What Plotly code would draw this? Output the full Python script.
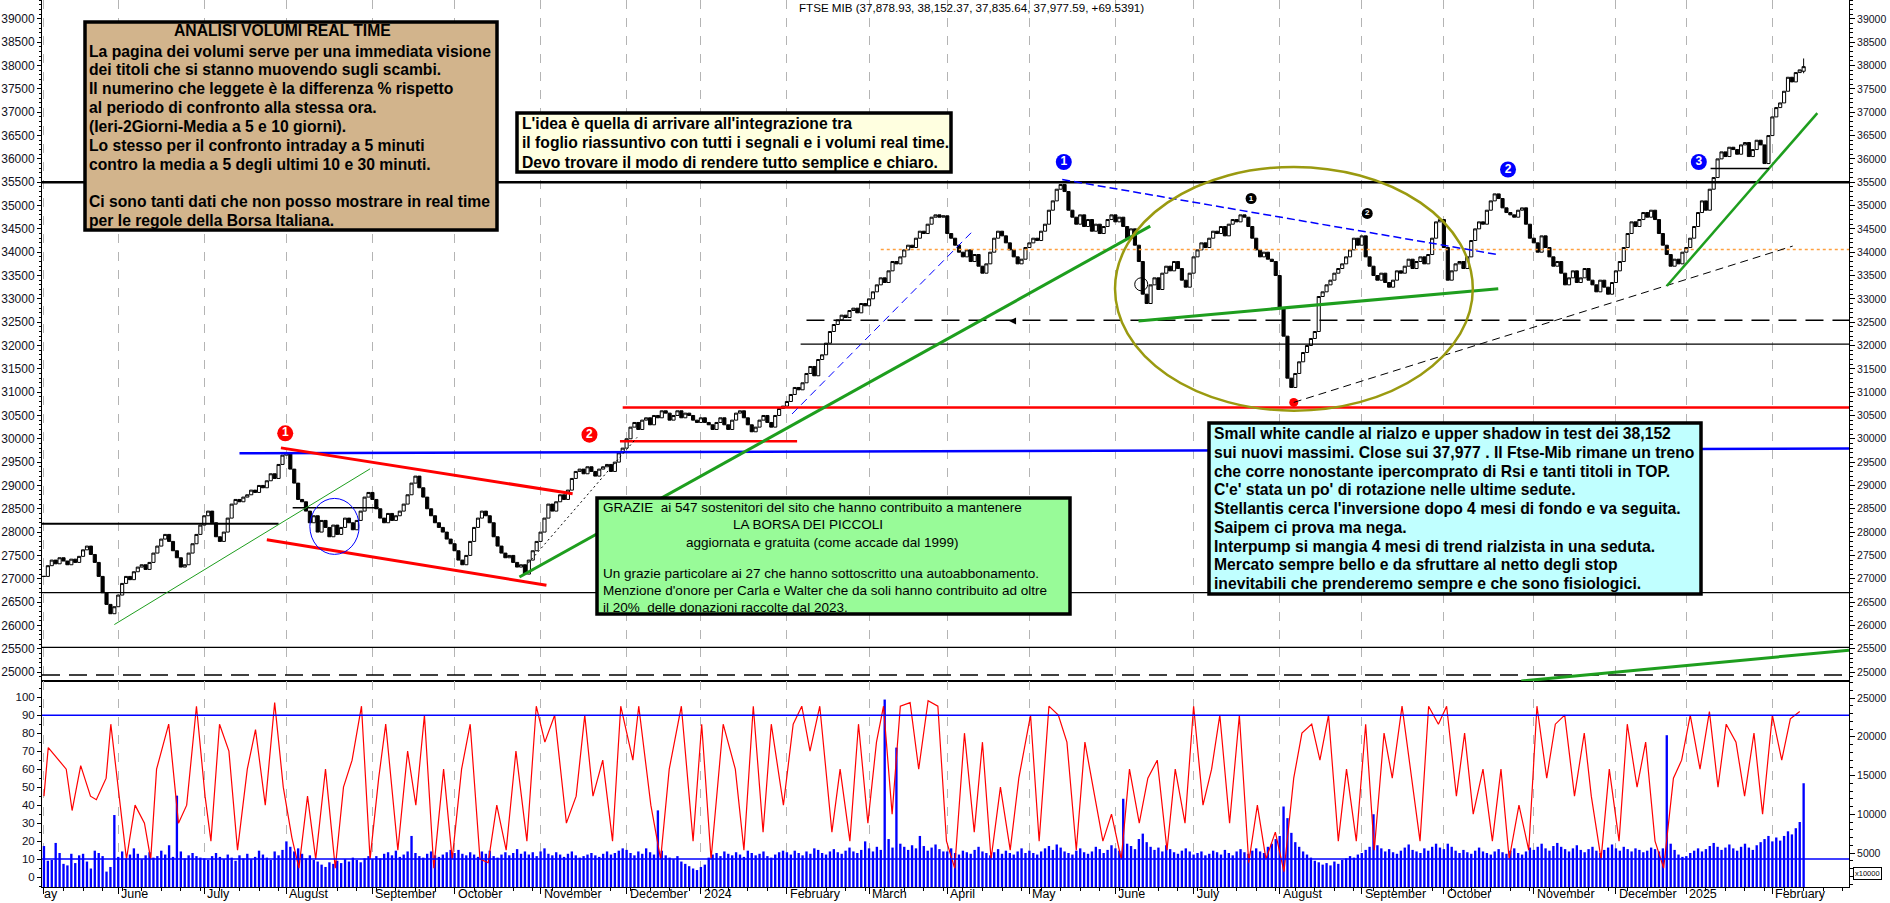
import plotly.graph_objects as go

# ---------------- data ----------------
month_names = ["May", "June", "July", "August", "September", "October", "November",
               "December", "2024", "February", "March", "April", "May", "June", "July",
               "August", "September", "October", "November", "December", "2025", "February"]

close_2023_05 = [27050, 27280, 27400, 27320, 27450, 27380, 27300, 27420, 27350, 27480, 27620, 27700, 27520, 27350, 27050, 26700, 26450, 26250, 26400]
close_2023_06 = [26650, 26900, 27050, 26980, 27150, 27250, 27300, 27200, 27350, 27550, 27700, 27850, 27950, 27800, 27600, 27450, 27250, 27300, 27550, 27750, 27950, 28150]
close_2023_07 = [28350, 28450, 28200, 27900, 27800, 28000, 28300, 28600, 28700, 28650, 28750, 28800, 28900, 28850, 29000, 28950, 29100, 29250, 29150, 29450, 29650]
close_2023_08 = [29700, 29350, 29050, 28700, 28650, 28450, 28200, 28350, 28000, 28250, 28100, 27900, 28150, 27950, 28100, 28300, 28200, 28050, 28250, 28450, 28750, 28850]
close_2023_09 = [28700, 28500, 28300, 28200, 28400, 28250, 28350, 28450, 28600, 28800, 29050, 29200, 28950, 28750, 28500, 28350, 28200, 28100, 28000, 27850, 27750]
close_2023_10 = [27600, 27400, 27300, 27500, 27800, 28100, 28300, 28450, 28350, 28200, 27900, 27700, 27550, 27450, 27500, 27350, 27250, 27300, 27100, 27400, 27600, 27800]
close_2023_11 = [28000, 28300, 28600, 28450, 28650, 28800, 28700, 28900, 29150, 29300, 29350, 29250, 29400, 29300, 29200, 29350, 29400, 29450, 29300, 29500, 29700, 29800]
close_2023_12 = [30000, 30250, 30350, 30200, 30400, 30450, 30300, 30500, 30450, 30600, 30550, 30400, 30500, 30600, 30450, 30550, 30500, 30400, 30350]
close_2024_01 = [30450, 30350, 30300, 30200, 30350, 30450, 30300, 30200, 30400, 30550, 30600, 30450, 30300, 30150, 30250, 30400, 30500, 30350, 30250, 30500, 30650, 30700]
close_2024_02 = [30800, 30950, 31100, 31050, 31200, 31400, 31550, 31350, 31700, 31800, 32050, 32300, 32450, 32550, 32650, 32600, 32750, 32800, 32700, 32900, 32850]
close_2024_03 = [33000, 33150, 33300, 33450, 33350, 33600, 33800, 33750, 33900, 34050, 34150, 34100, 34300, 34450, 34400, 34600, 34750, 34800, 34750, 34780]
close_2024_04 = [34400, 34300, 34150, 34000, 33900, 34050, 33800, 33950, 33700, 33550, 33750, 34000, 34300, 34450, 34350, 34200, 34050, 33900, 33750, 33850, 34100]
close_2024_05 = [34200, 34300, 34250, 34450, 34600, 34900, 35100, 35350, 35450, 35300, 34900, 34750, 34600, 34800, 34550, 34700, 34450, 34600, 34400, 34550, 34700, 34800]
close_2024_06 = [34650, 34750, 34550, 34300, 34500, 34150, 33800, 33100, 32900, 33300, 33450, 33200, 33550, 33700, 33600, 33800, 33650, 33400, 33250, 33550]
close_2024_07 = [33900, 34050, 34200, 34100, 34300, 34450, 34400, 34550, 34350, 34600, 34700, 34650, 34800, 34750, 34550, 34300, 34050, 33900, 34000, 33850, 33800, 33500]
close_2024_08 = [32800, 32200, 31300, 31100, 31400, 31650, 31850, 32000, 32150, 32300, 33050, 33150, 33300, 33400, 33550, 33650, 33750, 33900, 34050, 34300, 34150]
close_2024_09 = [34350, 33900, 33700, 33500, 33400, 33550, 33350, 33250, 33400, 33600, 33550, 33700, 33850, 33650, 33800, 33900, 33750, 33950, 34300, 34650, 34700]
close_2024_10 = [34100, 33400, 33600, 33750, 33800, 33650, 33900, 34250, 34500, 34650, 34600, 34900, 35100, 35250, 35150, 34950, 34850, 34800, 34750, 34900, 34950, 34600, 34300]
close_2024_11 = [34200, 34000, 34350, 34100, 33900, 33700, 33800, 33550, 33300, 33450, 33600, 33350, 33450, 33650, 33400, 33300, 33150, 33400, 33250, 33100, 33350]
close_2024_12 = [33600, 33800, 34100, 34400, 34650, 34550, 34700, 34850, 34750, 34900, 34700, 34400, 34150, 33950, 33700, 33850, 33750, 34000]
close_2025_01 = [34100, 34300, 34550, 34850, 35100, 34900, 35350, 35600, 36000, 36150, 36050, 36250, 36200, 36100, 36300, 36350, 36050, 36200, 36400, 36300, 35900, 36500]
close_2025_02 = [36900, 37100, 37200, 37450, 37750, 37650, 37850, 37908.05, 37977.59]

last_ohlc = [37878.93, 38152.37, 37835.64, 37977.59]
last_change = 69.5391

vol_2023_05 = [5900, 4000, 4100, 6300, 5000, 3600, 3400, 4900, 3700, 4700, 4900, 3900, 3000, 5300, 5000, 4600, 2600, 3200, 9900]
vol_2023_06 = [4500, 5200, 4300, 4800, 5600, 4900, 4200, 4700, 5100, 4400, 4600, 5300, 4800, 6000, 4500, 12400, 5200, 4300, 4700, 5000, 4600, 4400]
vol_2023_07 = [4300, 4100, 4600, 5000, 4500, 4200, 4800, 4400, 4000, 4700, 4300, 4900, 4200, 4500, 5300, 4800, 4400, 4100, 5200, 4700, 5400]
vol_2023_08 = [6500, 5800, 5200, 5600, 4900, 4300, 4700, 4100, 3900, 3500, 3200, 3800, 3600, 4000, 3700, 4200, 3900, 4400, 4100, 3800, 4300, 4600]
vol_2023_09 = [4200, 4600, 4300, 4900, 5100, 4700, 5300, 4500, 4800, 5200, 7200, 5000, 4600, 4400, 4900, 5200, 4700, 4500, 4800, 5100, 5400]
vol_2023_10 = [5000, 5400, 4900, 4700, 5100, 4800, 4500, 5200, 4900, 5300, 4600, 4400, 4800, 5100, 4700, 5000, 5500, 4900, 5200, 4800, 5100, 4600]
vol_2023_11 = [5200, 5600, 4900, 4700, 5100, 4800, 4500, 4900, 5200, 4700, 4400, 4600, 4800, 5000, 4700, 4500, 4900, 5200, 4800, 5000, 5300, 5600]
vol_2023_12 = [5400, 5000, 4700, 5200, 4900, 5600, 5100, 4800, 10500, 5300, 4700, 4400, 4200, 4600, 3900, 3600, 3300, 3000, 2800]
vol_2024_01 = [3200, 3500, 4400, 4800, 5000, 4600, 5200, 4900, 4700, 5100, 4800, 4500, 5300, 5000, 4700, 4900, 5200, 4600, 4400, 4800, 5100, 5300]
vol_2024_02 = [5100, 4800, 5300, 5000, 4700, 5200, 4900, 5600, 5400, 5000, 4800, 5200, 5500, 5100, 4900, 5300, 5700, 5200, 5000, 5400, 6500]
vol_2024_03 = [5600, 5200, 5800, 5400, 24800, 6800, 5700, 18600, 6200, 5800, 5400, 6000, 5600, 7200, 5900, 5300, 5700, 6100, 5500, 5200]
vol_2024_04 = [5200, 5600, 5000, 4800, 5300, 5100, 4900, 5400, 5800, 5200, 5000, 4700, 5100, 5500, 4900, 5300, 5000, 4800, 5200, 5600, 5000]
vol_2024_05 = [5300, 5000, 4800, 5200, 5600, 5900, 5400, 6100, 5700, 5200, 5000, 4800, 5300, 5600, 5100, 4900, 5200, 5800, 5500, 5000, 5400, 6000]
vol_2024_06 = [5600, 5300, 12000, 6200, 5900, 5500, 6800, 7500, 6400, 5800, 5400, 5700, 5200, 6000, 5500, 5100, 4900, 5300, 5600, 5200]
vol_2024_07 = [4800, 5000, 5200, 4700, 4900, 5300, 5100, 4800, 5400, 5000, 4700, 5200, 5500, 5100, 4900, 5300, 5600, 5200, 5000, 5800, 6200, 6800]
vol_2024_08 = [7200, 11000, 9500, 7600, 6400, 5800, 5200, 4800, 4400, 4000, 3800, 3500, 3700, 3400, 3900, 3600, 4100, 4300, 4600, 4400, 4800]
vol_2024_09 = [5000, 5400, 5800, 10000, 6000, 5600, 5200, 5500, 5100, 4900, 5300, 5700, 6100, 5400, 5200, 5000, 5600, 5300, 5800, 6200, 5700]
vol_2024_10 = [5500, 6200, 5800, 5300, 5000, 5400, 5100, 4900, 5300, 5700, 5200, 5000, 4800, 5200, 5500, 5100, 4900, 5300, 5600, 5000, 4800, 5200, 5700]
vol_2024_11 = [5400, 5800, 6200, 5600, 5300, 5900, 6300, 5800, 5500, 5200, 5600, 6000, 5400, 5100, 5500, 5800, 5300, 5000, 5400, 5700, 6100]
vol_2024_12 = [5600, 5300, 5800, 5500, 5200, 5600, 5400, 5100, 5300, 5700, 5500, 5200, 5600, 20200, 6200, 5400, 4800, 4500]
vol_2025_01 = [4600, 5000, 5300, 5600, 5200, 5500, 5900, 6300, 5800, 5400, 5700, 6100, 5600, 5300, 5800, 6200, 5700, 5400, 6000, 6400, 6800, 7200]
vol_2025_02 = [6500, 7000, 6600, 7200, 7800, 7400, 8200, 9000, 14000]

rsi_day = [0, 1.1, 5.7, 7.2, 9.4, 11.9, 13.4, 15.9, 17.1, 19.6, 21.1, 23.3, 25.7, 27.3, 28.8, 31.9, 34.4, 36.5, 39, 41.2,
           42.7, 44.9, 47.3, 49.5, 52, 54.1, 56.6, 59.0, 61.2, 63.4, 65.2, 67.4, 69.5, 72, 74.5, 76.6, 78.8, 81.2, 83.4, 85.6,
           87.4, 90.5, 93, 95.1, 97.3, 99.7, 102.2, 104.4, 106.8, 109, 111.5, 113.6, 115.8, 118.2, 120.7, 123.5, 125.9, 128.1, 130.6, 133.6,
           136.1, 138.3, 140.4, 142.9, 145.4, 147.5, 150.6, 152.1, 155.2, 157.7, 159.9, 163, 166, 168.2, 170.6, 173.7, 176.8, 179, 181.4, 183.9,
           186, 189.1, 191.6, 193.8, 195.9, 198.4, 201.5, 203.6, 206.1, 208.3, 210.7, 212.9, 214.7, 216.9, 219.0, 221.5, 223.7, 226.1, 228.6, 230.8,
           232.9, 235.4, 237.9, 240, 242.2, 244.6, 247.1, 249.3, 252.3, 254.5, 257, 259.4, 261.6, 264, 266.2, 268.7, 270.8, 273, 275.5, 277.6,
           280.1, 282.3, 284.7, 287.2, 289.3, 291.8, 294, 296.4, 298.6, 300.7, 303.2, 305.7, 308.1, 310.3, 312.5, 314.9, 317.1, 319.6, 321.7, 324.2,
           326.3, 328.5, 331, 333.1, 335.6, 338, 340.2, 342.7, 344.8, 347.3, 349.5, 351.9, 354.1, 356.6, 358.7, 361.2, 363.3, 365.5, 368, 370.4,
           372.6, 374.7, 377.2, 379.7, 381.8, 384.3, 386.5, 388.9, 391.4, 393.9, 395.7, 398.2, 400.3, 402.8, 404.9, 407.4, 409.6, 412, 414.2, 416.7,
           418.8, 421, 423.5, 425.9, 428.1, 430.2, 432.7, 434.9, 437.3, 439.5, 442, 444.4, 446.6, 449]
rsi_value = [45, 72, 60, 37, 62, 45, 43, 55, 85, 40, 10, 40, 30, 10, 60, 85, 30, 40, 95, 45,
             20, 85, 70, 15, 60, 82, 40, 97, 50, 22, 5, 45, 10, 60, 5, 50, 65, 95, 10, 55,
             85, 15, 70, 40, 90, 5, 60, 10, 60, 85, 10, 8, 40, 15, 70, 20, 95, 75, 90, 30,
             45, 90, 45, 65, 20, 95, 65, 95, 40, 10, 60, 95, 20, 85, 10, 85, 60, 15, 95, 25,
             85, 40, 85, 95, 70, 95, 25, 60, 20, 85, 30, 75, 95, 35, 95, 97, 60, 98, 95, 20,
             5, 80, 25, 75, 10, 50, 15, 55, 90, 20, 95, 90, 75, 15, 75, 45, 20, 35, 10, 60,
             30, 55, 65, 15, 60, 30, 95, 40, 60, 90, 30, 90, 8, 40, 10, 25, 3, 55, 80, 85,
             65, 90, 20, 60, 20, 85, 15, 80, 55, 95, 60, 20, 95, 85, 95, 45, 80, 35, 60, 20,
             60, 10, 40, 15, 95, 55, 85, 90, 45, 80, 45, 10, 60, 20, 85, 50, 75, 20, 5, 55,
             65, 90, 60, 92, 50, 85, 75, 45, 80, 35, 90, 65, 88, 92]

rsi_upper, rsi_lower = 90, 10

# chart levels and drawn lines: (trading day, price)
level_35500 = 35500
level_orange = 34060
level_dashed = 32540
level_black_32000 = 32030
level_red = 30673
level_red_short = 29947
level_blue = (29690, 29790)
level_black_28180 = 28180
level_black_28520 = 28520
level_black_26700 = 26703
level_black_25530 = 25530
level_dashed_24935 = 24935
bottom_green = [(377.8, 24807), (461.6, 25470)]
thin_green = [(18.0, 26018), (83.4, 29356)]
channel_upper = [(60.6, 29805), (135.2, 28821)]
channel_lower = [(57.0, 27837), (128.5, 26860)]
blue_circle = [(68.0, 27522), (80.6, 28722)]
long_green = [(121.6, 27037), (282.9, 34559)]
dotted_black = [(123.0, 27252), (151.7, 30032)]
blue_dash_up = [(191.3, 30532), (237.1, 34416)]
blue_dash_down = [(260.4, 35557), (371.4, 33954)]
green_support = [(279.9, 32527), (371.9, 33218)]
olive_ellipse = [(273.9, 30603), (365.4, 35827)]
black_dash_up = [(319.6, 30780), (447.2, 34131)]
green_2025 = [(415.0, 33276), (453.5, 36982)]
black_short = [(426.2, 35792), (441.2, 35792)]
red_marks = [(61.7, 30117, "1"), (139.5, 30089, "2")]
blue_marks = [(260.8, 35934, "1"), (374.4, 35772, "2"), (423.2, 35934, "3")]
black_marks = [(308.7, 35151, "1"), (338.4, 34831, "2")]
small_red_mark = (319.6, 30780)
open_circle_mark = (280.6, 33312)
arrow_mark = (246.8, 32527)

price_ticks = list(range(25000, 39001, 500))
vol_ticks = [5000, 10000, 15000, 20000, 25000]
rsi_ticks = list(range(0, 101, 10))

# ---------------- assemble ----------------
monthly_closes = [close_2023_05, close_2023_06, close_2023_07, close_2023_08, close_2023_09,
                  close_2023_10, close_2023_11, close_2023_12, close_2024_01, close_2024_02,
                  close_2024_03, close_2024_04, close_2024_05, close_2024_06, close_2024_07,
                  close_2024_08, close_2024_09, close_2024_10, close_2024_11, close_2024_12,
                  close_2025_01, close_2025_02]
monthly_vols = [vol_2023_05, vol_2023_06, vol_2023_07, vol_2023_08, vol_2023_09, vol_2023_10,
                vol_2023_11, vol_2023_12, vol_2024_01, vol_2024_02, vol_2024_03, vol_2024_04,
                vol_2024_05, vol_2024_06, vol_2024_07, vol_2024_08, vol_2024_09, vol_2024_10,
                vol_2024_11, vol_2024_12, vol_2025_01, vol_2025_02]

closes, vols, month_start = [], [], []
for mc, mv in zip(monthly_closes, monthly_vols):
    month_start.append(len(closes))
    closes.extend(mc)
    vols.extend(mv)
n = len(closes)
days = list(range(n))
opens = [closes[0]] + closes[:-1]
highs = [max(o, c) for o, c in zip(opens, closes)]
lows = [min(o, c) for o, c in zip(opens, closes)]
opens[-1], highs[-1], lows[-1], closes[-1] = last_ohlc

X0, X1 = -0.5, 461.6
W, H = 1890, 903
def px(x): return x / W
def py(y): return 1 - y / H

XD = [px(42), px(1849)]
MAIN_D = [py(681), 1.0]
LOW_D = [py(887), py(681)]
FONT = "Liberation Sans, Arial, sans-serif"

fig = go.Figure()
fig.add_trace(go.Candlestick(
    x=days, open=opens, high=highs, low=lows, close=closes,
    increasing=dict(line=dict(color="black", width=1), fillcolor="white"),
    decreasing=dict(line=dict(color="black", width=1), fillcolor="black"),
    whiskerwidth=0, xaxis="x", yaxis="y", hoverinfo="skip", showlegend=False))
fig.add_trace(go.Scatter(x=[0], y=[30000], xaxis="x", yaxis="y3", mode="markers",
                         marker=dict(opacity=0), hoverinfo="skip", showlegend=False))

# lower panel
fig.add_trace(go.Bar(x=days, y=vols, xaxis="x2", yaxis="y2", marker=dict(color="#0000FF", line=dict(width=0)),
                     width=0.6, hoverinfo="skip", showlegend=False))
fig.add_trace(go.Scatter(x=rsi_day, y=rsi_value, xaxis="x2", yaxis="y4", mode="lines",
                         line=dict(color="#FF0000", width=1.2), hoverinfo="skip", showlegend=False))

shapes = []
def seg(p0, p1, color, width, dash="solid", yref="y"):
    shapes.append(dict(type="line", xref="x", yref=yref, x0=p0[0], y0=p0[1], x1=p1[0], y1=p1[1],
                       line=dict(color=color, width=width, dash=dash), layer="above"))

def hline(y, x0, x1, color, width, dash="solid"):
    seg((x0, y), (x1, y), color, width, dash)

hline(level_35500, X0, X1, "black", 2.5)
hline(level_orange, 214, X1, "#FFA040", 1.5, "3px,3px")
hline(level_dashed, 195, X1, "black", 1.5, "18px,9px")
hline(level_black_32000, 193.5, X1, "black", 1.2)
hline(level_red, 148, X1, "#FF0000", 2.5)
hline(level_red_short, 147.3, 192.6, "#FF0000", 2.5)
seg((50, level_blue[0]), (X1, level_blue[1]), "#0000FF", 2.5)
hline(level_black_28180, X0, 60, "black", 2)
hline(level_black_28520, 63.6, 85.6, "black", 1.5)
hline(level_black_26700, X0, X1, "black", 1.2)
hline(level_black_25530, X0, X1, "black", 1.2)
hline(level_dashed_24935, X0, X1, "black", 1.5, "18px,9px")
seg(*bottom_green, "#1E9E1E", 3)
seg(*thin_green, "#1E9E1E", 1)
seg(*channel_upper, "#FF0000", 3)
seg(*channel_lower, "#FF0000", 3)
seg(*long_green, "#1E9E1E", 3)
seg(*dotted_black, "black", 1, "2px,3px")
seg(*blue_dash_up, "#0000FF", 1, "8px,5px")
seg(*blue_dash_down, "#0000FF", 1.5, "8px,4px")
seg(*green_support, "#1E9E1E", 3)
seg(*black_dash_up, "black", 1, "8px,5px")
seg(*green_2025, "#1E9E1E", 2.5)
seg(*black_short, "black", 1.5)
shapes.append(dict(type="circle", xref="x", yref="y", x0=blue_circle[0][0], y0=blue_circle[0][1],
                   x1=blue_circle[1][0], y1=blue_circle[1][1], line=dict(color="#0000FF", width=1), layer="above"))
shapes.append(dict(type="circle", xref="x", yref="y", x0=olive_ellipse[0][0], y0=olive_ellipse[0][1],
                   x1=olive_ellipse[1][0], y1=olive_ellipse[1][1], line=dict(color="#9A9A10", width=2.5), layer="above"))

# RSI 90/10 lines
for lv in (rsi_upper, rsi_lower):
    shapes.append(dict(type="line", xref="paper", yref="y4", x0=XD[0], x1=XD[1], y0=lv, y1=lv,
                       line=dict(color="#0000FF", width=1.5), layer="above"))

# text boxes (pixel layout)
def box(x0, y0, x1, y1, fill):
    shapes.append(dict(type="rect", xref="paper", yref="paper", x0=px(x0), x1=px(x1), y0=py(y1), y1=py(y0),
                       fillcolor=fill, line=dict(color="black", width=3.5), layer="above"))

box(85, 22, 497, 230, "#D2B48C")
box(517, 113, 951, 172, "#FFFFE0")
box(597, 498, 1070, 614, "#98FB98")
box(1209, 423, 1701, 594, "#C0FFFF")

annotations = []
def text(x, y, s, size=15.7, anchor="left", bold=True, color="black"):
    annotations.append(dict(xref="paper", yref="paper", x=px(x), y=py(y), text=(f"<b>{s}</b>" if bold else s),
                            showarrow=False, xanchor=anchor, yanchor="middle", align=anchor,
                            font=dict(family=FONT, size=size, color=color)))

def lines(x, y0, step, rows, **kw):
    for k, s in enumerate(rows):
        if s:
            text(x, y0 + k * step, s, **kw)

text(282, 31, "ANALISI VOLUMI REAL TIME", anchor="center")
lines(87, 51, 18.85, [
    "La pagina dei volumi serve per una immediata visione",
    "dei titoli che si stanno muovendo sugli scambi.",
    "Il numerino che leggete è la differenza % rispetto",
    "al periodo di confronto alla stessa ora.",
    "(Ieri-2Giorni-Media a 5 e 10 giorni).",
    "Lo stesso per il confronto intraday a 5 minuti",
    "contro la media a 5 degli ultimi 10 e 30 minuti.",
    "",
    "Ci sono tanti dati che non posso mostrare in real time",
    "per le regole della Borsa Italiana."])
lines(520, 124, 19, [
    "L'idea è quella di arrivare all'integrazione tra",
    "il foglio riassuntivo con tutti i segnali e i volumi real time.",
    "Devo trovare il modo di rendere tutto semplice e chiaro."])
text(601, 507, "GRAZIE  ai 547 sostenitori del sito che hanno contribuito a mantenere", size=13.5, bold=False)
text(808, 524, "LA BORSA DEI PICCOLI", size=13.5, bold=False, anchor="center")
text(822, 542, "aggiornata e gratuita (come accade dal 1999)", size=13.5, bold=False, anchor="center")
lines(601, 573, 17, [
    "Un grazie particolare ai 27 che hanno sottoscritto una autoabbonamento.",
    "Menzione d'onore per Carla e Walter che da soli hanno contribuito ad oltre",
    "il 20%  delle donazioni raccolte dal 2023."], size=13.5, bold=False)
lines(1212, 433.5, 18.75, [
    "Small white candle al rialzo e upper shadow in test dei 38,152",
    "sui nuovi massimi. Close sui 37,977 . Il Ftse-Mib rimane un treno",
    "che corre nonostante ipercomprato di Rsi e tanti titoli in TOP.",
    "C'e' stata un po' di rotazione nelle ultime sedute.",
    "Stellantis cerca l'inversione dopo 4 mesi di fondo e va seguita.",
    "Saipem ci prova ma nega.",
    "Interpump si mangia 4 mesi di trend rialzista in una seduta.",
    "Mercato sempre bello e da sfruttare al netto degli stop",
    "inevitabili che prenderemo sempre e che sono fisiologici."])

title = "FTSE MIB ({:,.2f}, {:,.2f}, {:,.2f}, {:,.2f}, +{})".format(*last_ohlc, last_change)
text(797, 8, title, size=11.6, bold=False)

# month labels
for i, (name, ms) in enumerate(zip(month_names, month_start)):
    if i == 0:
        annotations.append(dict(xref="paper", yref="paper", x=px(42), y=py(894), text=name[1:], showarrow=False,
                                xanchor="left", yanchor="middle", font=dict(family=FONT, size=12.5, color="black")))
    else:
        annotations.append(dict(xref="x2", yref="paper", x=ms, y=py(894), text=name, showarrow=False,
                                xanchor="left", yanchor="middle", xshift=1, font=dict(family=FONT, size=12.5, color="black")))

annotations.append(dict(xref="paper", yref="paper", x=px(1853), y=py(873), text="x10000", showarrow=False,
                        xanchor="left", yanchor="middle", font=dict(family=FONT, size=7.5, color="black"),
                        bordercolor="black", borderwidth=1, borderpad=1))

# numbered markers
def marks(lst, color, size, fsize):
    fig.add_trace(go.Scatter(x=[m[0] for m in lst], y=[m[1] for m in lst], text=[f"<b>{m[2]}</b>" for m in lst],
                             mode="markers+text", textposition="middle center",
                             marker=dict(color=color, size=size, line=dict(width=0)),
                             textfont=dict(color="white", size=fsize, family=FONT),
                             xaxis="x", yaxis="y", hoverinfo="skip", showlegend=False))
marks(red_marks, "#FF0000", 16, 12)
marks(blue_marks, "#0000FF", 16, 12)
marks(black_marks, "black", 11, 8)
fig.add_trace(go.Scatter(x=[small_red_mark[0]], y=[small_red_mark[1]], mode="markers",
                         marker=dict(color="#FF0000", size=9), xaxis="x", yaxis="y", hoverinfo="skip", showlegend=False))
fig.add_trace(go.Scatter(x=[open_circle_mark[0]], y=[open_circle_mark[1]], mode="markers",
                         marker=dict(color="rgba(0,0,0,0)", size=13, line=dict(color="black", width=1)),
                         xaxis="x", yaxis="y", hoverinfo="skip", showlegend=False))
fig.add_trace(go.Scatter(x=[arrow_mark[0]], y=[arrow_mark[1]], mode="markers",
                         marker=dict(color="black", size=7, symbol="arrow-left"),
                         xaxis="x", yaxis="y", hoverinfo="skip", showlegend=False))

axis_common = dict(showline=True, linecolor="black", linewidth=1, zeroline=False, fixedrange=True)
tickfont_l = dict(family=FONT, size=12, color="#111122")
tickfont_r = dict(family=FONT, size=10.5, color="#111122")
tickfont_ll = dict(family=FONT, size=11.5, color="#111122")

fig.update_layout(
    width=W, height=H, margin=dict(l=0, r=0, t=0, b=0),
    paper_bgcolor="white", plot_bgcolor="white", showlegend=False, hovermode=False,
    shapes=shapes, annotations=annotations, boxgap=0.2, boxgroupgap=0,
    xaxis=dict(domain=XD, range=[X0, X1], anchor="y", showticklabels=False, ticks="",
               tickvals=month_start, showgrid=True, gridcolor="#B4B4B4", griddash="dash", gridwidth=1,
               mirror=True, rangeslider=dict(visible=False), **axis_common),
    xaxis2=dict(domain=XD, range=[X0, X1], anchor="y2", matches="x", showticklabels=False,
                tickvals=month_start, ticks="outside", ticklen=6, tickcolor="black",
                minor=dict(tickmode="linear", tick0=0, dtick=5, ticks="outside", ticklen=3, tickcolor="black", showgrid=False),
                showgrid=True, gridcolor="#B4B4B4", griddash="dash", gridwidth=1, mirror=True, **axis_common),
    yaxis=dict(domain=MAIN_D, range=[24808, 39406], anchor="x", side="left",
               tickvals=price_ticks, ticktext=[str(v) for v in price_ticks],
               ticks="outside", ticklen=4, tickcolor="black", tickfont=tickfont_l, showgrid=False,
               minor=dict(tickmode="linear", tick0=0, dtick=100, ticks="outside", ticklen=2, tickcolor="black"),
               **axis_common),
    yaxis3=dict(overlaying="y", range=[24808, 39406], anchor="x", side="right",
                tickvals=price_ticks, ticktext=[str(v) for v in price_ticks],
                ticks="outside", ticklen=5, tickcolor="black", tickfont=tickfont_r, showgrid=False,
                minor=dict(tickmode="linear", tick0=0, dtick=100, ticks="outside", ticklen=3, tickcolor="black"),
                **axis_common),
    yaxis2=dict(domain=LOW_D, range=[613, 27194], anchor="x2", side="right",
                tickvals=vol_ticks, ticktext=[str(v) for v in vol_ticks], ticks="outside", ticklen=5, tickcolor="black",
                tickfont=tickfont_r, showgrid=False,
                minor=dict(tickmode="linear", tick0=0, dtick=1000, ticks="outside", ticklen=3, tickcolor="black"),
                **axis_common),
    yaxis4=dict(overlaying="y2", range=[-5.5, 109], anchor="x2", side="left",
                tickvals=rsi_ticks, ticktext=[str(v) for v in rsi_ticks], ticks="outside", ticklen=4, tickcolor="black",
                tickfont=tickfont_ll, showgrid=False,
                minor=dict(tickmode="linear", tick0=0, dtick=5, ticks="outside", ticklen=2, tickcolor="black"),
                **axis_common),
    bargap=0.4,
)

fig.write_html("out.html")
